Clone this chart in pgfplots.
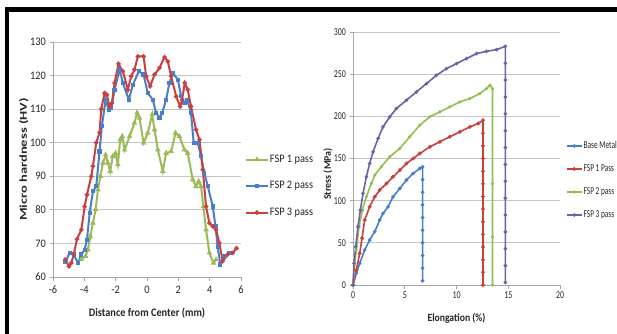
\documentclass[border=0pt]{standalone}
\usepackage{pgfplots}
\pgfplotsset{compat=1.18}
\usepackage{fontspec}
\setmainfont{Carlito}
\newfontfamily\lfont[FakeStretch=0.9]{Carlito}
\newfontfamily\rfont[FakeStretch=0.75]{Carlito}
\newfontfamily\rgfont[FakeStretch=0.7]{Carlito}
\newfontfamily\rlfont[FakeStretch=0.88]{Carlito}
\definecolor{xgreen}{HTML}{9BBB59}
\definecolor{xgreenb}{HTML}{92C050}
\definecolor{xblue}{HTML}{4A7EC8}
\definecolor{xred}{HTML}{C8413F}
\definecolor{xpurple}{HTML}{7060A8}
\definecolor{xgrid}{HTML}{C4C4C4}
\definecolor{xaxis}{HTML}{A6A6A6}
\pgfplotsset{
  xlcommon/.style={
    scale only axis, anchor=south west,
    axis lines=left, axis line style={draw=xaxis, line width=0.8pt, -},
    tick align=outside, major tick length=3.5pt,
    tick style={draw=xaxis, line width=0.8pt},
    ymajorgrids, grid style={draw=xgrid, line width=1pt},
    clip=false,
  }
}
\begin{document}
\begin{tikzpicture}[x=1pt,y=1pt]
\useasboundingbox (0,0) rectangle (617,333);
\fill[white] (0,0) rectangle (617,333);
\begin{scope}
\clip (0,0) rectangle (617,333);
% ---------------- left chart ----------------
\begin{axis}[xlcommon,
  at={(53pt,56pt)}, width=188pt, height=235pt,
  xmin=-6, xmax=6, ymin=60, ymax=130,
  xtick={-6,-4,-2,0,2,4,6}, xticklabels={-6,-4,-2,0,2,4,6},
  ytick={60,70,80,90,100,110,120,130}, yticklabels={60,70,80,90,100,110,120,130},
  ticklabel style={font=\lfont\fontsize{11.5}{13}\selectfont, text=black!85},
  xticklabel style={yshift=-2pt},
  xlabel={\lfont\fontsize{11.5}{13}\selectfont\bfseries Distance from Center (mm)},
  xlabel style={at={(axis description cs:0.5,-0.153)}, anchor=center, text=black!85},
  ylabel={\scalebox{1}[0.72]{\fontsize{14.5}{16}\selectfont\bfseries Micro hardness (HV)}},
  ylabel style={at={(axis description cs:-0.155,0.5)}, anchor=center, text=black!85},
  legend style={at={(axis description cs:1.021,0.387)}, anchor=west, draw=none, fill=none,
    inner sep=0pt, outer sep=0pt, font=\lfont\fontsize{11.5}{13}\selectfont, row sep=14pt,
    nodes={inner sep=1pt, text height=8pt, text depth=2.5pt}, text=black!85},
  legend cell align=left,
  legend image code/.code={\draw[#1, mark repeat=2, mark phase=2] plot coordinates {(0pt,0pt) (11pt,0pt) (22pt,0pt)};},
]
\addplot[color=xgreen, line width=2pt, mark=triangle*, mark size=1.3pt] coordinates {
(-4.19,65.2) (-3.92,66.2) (-3.77,68.1) (-3.62,72.1) (-3.45,76.1) (-3.28,80.1) (-3.13,86) (-2.98,90) (-2.81,94) (-2.64,96.4) (-2.50,94) (-2.35,91.5) (-2.18,96) (-2.01,96.9) (-1.86,93.5) (-1.71,100.9) (-1.58,101.9) (-1.43,97.9) (-1.11,101.9) (-0.80,105.9) (-0.63,108.9) (-0.48,107.4) (-0.22,99.9) (0.05,102.9) (0.33,108.4) (0.48,103.9) (0.69,97.9) (1.01,91.5) (1.22,96.9) (1.54,97.4) (1.82,102.9) (2.07,101.9) (2.39,97.9) (2.60,96.9) (2.92,89) (3.13,87) (3.30,88.5) (3.45,87) (3.60,81) (3.77,74.1) (3.98,67.2) (4.24,64.2) (4.41,65.2)
};
\addlegendentry{FSP 1 pass}
\addplot[color=xblue, line width=2pt, mark=square*, mark size=1.1pt] coordinates {
(-5.2,64.5) (-4.94,67.2) (-4.68,66.7) (-4.41,64.2) (-4.19,66.7) (-3.98,68.1) (-3.83,71.1) (-3.66,79.1) (-3.45,85.5) (-3.24,87) (-3.03,97.4) (-2.88,104.9) (-2.64,112.8) (-2.45,109.9) (-2.28,110.3) (-2.07,115.8) (-1.75,121.8) (-1.54,117.8) (-1.16,112.8) (-0.90,117.3) (-0.52,121.3) (-0.22,120.3) (0.05,114.8) (0.37,112.8) (0.58,108.9) (0.80,107.4) (0.97,108.9) (1.22,112.8) (1.43,117.8) (1.65,120.8) (1.97,118.8) (2.18,113.8) (2.39,111.8) (2.56,112.8) (2.81,108.9) (2.98,99.9) (3.24,99.9) (3.45,96) (3.66,91) (3.88,87) (4.20,81) (4.37,75.1) (4.51,69.1) (4.68,63.7) (4.94,66.2) (5.26,67.2)
};
\addlegendentry{FSP 2 pass}
\addplot[color=xred, line width=2pt, mark=*, mark size=1.1pt] coordinates {
(-5.21,65.2) (-4.98,63.2) (-4.83,64.2) (-4.68,66.7) (-4.47,71.3) (-4.19,74.1) (-3.98,81) (-3.83,84.5) (-3.56,90) (-3.45,93) (-3.24,100) (-3.03,103) (-2.92,110) (-2.71,114.8) (-2.56,114.3) (-2.39,110.8) (-2.24,111.8) (-2.07,117.8) (-1.82,123.5) (-1.54,121.3) (-1.22,115.8) (-1.01,119.8) (-0.80,121.8) (-0.58,125.7) (-0.22,125.7) (-0.05,119.8) (0.20,116.8) (0.48,120.3) (0.80,122.3) (1.12,125.5) (1.33,124.2) (1.54,119.8) (1.86,113.8) (2.11,110.8) (2.24,112.8) (2.41,117.8) (2.60,115.8) (2.81,110.8) (3.13,103.9) (3.35,100.9) (3.56,92) (3.77,81) (3.98,76.1) (4.20,75.1) (4.41,74.1) (4.62,70.1) (4.83,64.7) (5.15,66.7) (5.47,67.2) (5.72,68.6)
};
\addlegendentry{FSP 3 pass}
\end{axis}
% ---------------- right chart ----------------
\begin{axis}[xlcommon,
  at={(353pt,48pt)}, width=207pt, height=253pt,
  xmin=0, xmax=20, ymin=0, ymax=300,
  xtick={0,5,10,15,20}, xticklabels={0,5,10,15,20},
  ytick={0,50,100,150,200,250,300}, yticklabels={0,50,100,150,200,250,300},
  ticklabel style={font=\rfont\fontsize{10.5}{12}\selectfont, text=black!85},
  xlabel={\rlfont\fontsize{11}{13}\selectfont\bfseries Elongation (\%)},
  xlabel style={at={(axis description cs:0.5,-0.130)}, anchor=center, text=black!85},
  ylabel={\fontsize{10}{12}\selectfont\bfseries Stress (MPa)},
  ylabel style={at={(axis description cs:-0.121,0.439)}, anchor=center, text=black!85},
  legend style={at={(axis description cs:1.029,0.413)}, anchor=west, draw=none, fill=none,
    inner sep=0pt, outer sep=0pt, font=\rgfont\fontsize{10.5}{12}\selectfont, row sep=11.3pt,
    nodes={inner sep=1pt, text height=7.5pt, text depth=2.2pt}, text=black!85},
  legend cell align=left,
  legend image code/.code={\draw[#1, mark repeat=2, mark phase=2] plot coordinates {(0pt,0pt) (7.5pt,0pt) (15pt,0pt)};},
]
\addplot[color=xblue, line width=1.6pt, mark=*, mark size=0.9pt] coordinates {
(0,0) (0.32,13.8) (0.65,25.7) (1.13,41.5) (1.61,53.3) (2.10,63.2) (2.58,77) (2.90,84.9) (3.39,92.8) (3.87,104.6) (4.52,114.5) (5.16,124.4) (5.81,132.3) (6.45,138.2) (6.72,140) (6.72,125) (6.72,110) (6.72,95) (6.72,80) (6.72,65) (6.72,50) (6.72,35) (6.72,20) (6.72,5)
};
\addlegendentry{Base Metal}
\addplot[color=xred, line width=1.6pt, mark=*, mark size=1pt] coordinates {
(0,0) (0.32,17.8) (0.65,37.5) (0.87,55.3) (1.13,77) (1.61,92.8) (2.10,104.6) (2.58,112.5) (3.23,120.4) (3.87,128.3) (4.52,136.2) (5.16,144.1) (5.81,150) (6.45,155.9) (7.42,163.8) (8.39,169.8) (9.35,175.7) (10.32,181.6) (11.29,187.5) (12.10,191.5) (12.56,195.4) (12.56,180) (12.56,165) (12.56,150) (12.56,135) (12.56,120) (12.56,105) (12.56,90) (12.56,75) (12.56,60) (12.56,45) (12.56,30) (12.56,15) (12.56,0)
};
\addlegendentry{FSP 1 Pass}
\addplot[color=xgreenb, line width=1.6pt, mark=*, mark size=0.7pt] coordinates {
(0,0) (0.16,25.7) (0.32,41.5) (0.58,69.1) (0.90,88.8) (1.29,104.6) (1.77,120.4) (2.10,130.3) (2.74,140.2) (3.55,152) (4.52,161.9) (5.48,175.7) (6.45,189.5) (7.42,199.4) (8.39,205.3) (9.35,211.2) (10.32,217.1) (11.29,221.1) (12.26,227) (12.90,232.9) (13.23,236.9) (13.48,232.9) (13.48,120) (13.48,57) (13.48,0)
};
\addlegendentry{FSP 2 pass}
\addplot[color=xpurple, line width=1.6pt, mark=*, mark size=0.9pt] coordinates {
(0,0) (0.10,25.7) (0.26,45.4) (0.48,69.1) (0.71,88.8) (0.97,108.6) (1.29,128.3) (1.61,144.1) (1.94,157.9) (2.42,173.7) (2.90,187.5) (3.55,199.4) (4.19,209.2) (5.16,219.1) (6.13,229) (7.10,238.8) (8.06,248.7) (9.03,256.6) (10.0,262.5) (10.97,268.5) (11.94,274.4) (12.90,277.1) (13.87,279.1) (14.72,283) (14.72,263) (14.72,243) (14.72,223) (14.72,203) (14.72,183) (14.72,163) (14.72,143) (14.72,123) (14.72,103) (14.72,83) (14.72,63) (14.72,43) (14.72,23) (14.72,3)
};
\addlegendentry{FSP 3 pass}
\end{axis}
\end{scope}
\draw[black, line width=4.5pt] (5,323.5) -- (620,323.5);
\draw[black, line width=4.5pt] (7.2,-2) -- (7.2,325.75);
\end{tikzpicture}
\end{document}
